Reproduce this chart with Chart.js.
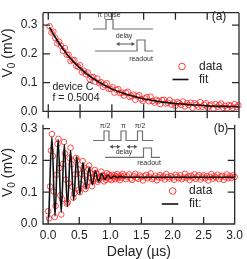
<!DOCTYPE html>
<html>
<head>
<meta charset="utf-8">
<script src="https://cdn.jsdelivr.net/npm/chart.js@4/dist/chart.umd.min.js"></script>
<style>
  html, body { margin: 0; padding: 0; background: #fff; }
  #wrap { position: relative; width: 247px; height: 259px; overflow: hidden; }
  canvas { position: absolute; left: 0; }
  #chartA { top: 0; }
  #chartB { top: 112px; }
</style>
</head>
<body>
<div id="wrap">
  <canvas id="chartA" width="247" height="124"></canvas>
  <canvas id="chartB" width="247" height="147"></canvas>
</div>
<script>
// axis ticks
const yTicks = [0, 0.1, 0.2, 0.3];
const xTicks = [0, 0.5, 1.0, 1.5, 2.0, 2.5, 3.0];

// panel (a): pi pulse + delay + readout
const delayA = [0.02,0.05,0.08,0.11,0.14,0.17,0.20,0.23,0.26,0.29,
  0.32,0.35,0.38,0.41,0.44,0.47,0.50,0.53,0.56,0.59,
  0.62,0.65,0.68,0.71,0.74,0.77,0.80,0.83,0.86,0.89,
  0.92,0.95,0.98,1.01,1.04,1.07,1.10,1.13,1.16,1.19,
  1.22,1.25,1.28,1.31,1.34,1.37,1.40,1.43,1.46,1.49,
  1.52,1.55,1.58,1.61,1.64,1.67,1.70,1.73,1.76,1.79,
  1.82,1.85,1.88,1.91,1.94,1.97,2.00,2.03,2.06,2.09,
  2.12,2.15,2.18,2.21,2.24,2.27,2.30,2.33,2.36,2.39,
  2.42,2.45,2.48,2.51,2.54,2.57,2.60,2.63,2.66,2.69,
  2.72,2.75,2.78,2.81,2.84,2.87,2.90,2.93,2.96,2.99];
const voltA = [0.296,0.274,0.277,0.255,0.236,0.242,0.228,0.210,0.220,0.197,
  0.197,0.175,0.179,0.178,0.158,0.155,0.160,0.136,0.141,0.129,
  0.135,0.112,0.118,0.119,0.103,0.114,0.098,0.101,0.085,0.092,
  0.098,0.078,0.078,0.084,0.065,0.075,0.077,0.063,0.065,0.055,
  0.065,0.068,0.050,0.053,0.058,0.040,0.052,0.056,0.043,0.036,
  0.045,0.049,0.035,0.051,0.036,0.030,0.040,0.036,0.025,0.039,
  0.040,0.027,0.030,0.039,0.023,0.031,0.019,0.032,0.028,0.022,
  0.034,0.017,0.028,0.022,0.030,0.012,0.028,0.023,0.016,0.032,
  0.016,0.023,0.028,0.013,0.020,0.024,0.009,0.025,0.016,0.022,
  0.027,0.012,0.019,0.010,0.022,0.019,0.012,0.025,0.015,0.021];
const fitDelayA = [0.02,0.1,0.2,0.3,0.4,0.5,0.6,0.7,0.8,0.9,1.0,1.2,1.4,1.6,1.8,2.0,2.25,2.5,2.75,3.0];
const fitVoltA = [0.292,0.261,0.227,0.197,0.172,0.150,0.131,0.115,0.101,0.089,0.078,0.061,0.049,0.039,0.032,0.027,0.023,0.019,0.017,0.016];

// panel (b): pi/2 - delay - pi - delay - pi/2 + readout
const delayB = [0,0.015,0.03,0.045,0.06,0.075,0.09,0.105,0.12,0.135,
  0.15,0.165,0.18,0.195,0.21,0.225,0.24,0.255,0.27,0.285,
  0.3,0.315,0.33,0.345,0.36,0.375,0.39,0.405,0.42,0.435,
  0.45,0.465,0.48,0.495,0.51,0.525,0.54,0.555,0.57,0.585,
  0.6,0.615,0.63,0.645,0.66,0.675,0.69,0.705,0.72,0.735,
  0.75,0.765,0.78,0.795,0.81,0.825,0.84,0.855,0.87,0.885,
  0.9,0.915,0.93,0.945,0.96,0.975,0.99,1.005,1.02,1.035,
  1.05,1.065,1.08,1.095,1.11,1.125,1.14,1.155,1.17,1.185,1.2,
  1.225,1.25,1.275,1.3,1.325,1.35,1.375,1.4,1.425,1.45,
  1.475,1.5,1.525,1.55,1.575,1.6,1.625,1.65,1.675,1.7,
  1.725,1.75,1.775,1.8,1.825,1.85,1.875,1.9,1.925,1.95,
  1.975,2.0,2.025,2.05,2.075,2.1,2.125,2.15,2.175,2.2,
  2.225,2.25,2.275,2.3,2.325,2.35,2.375,2.4,2.425,2.45,
  2.475,2.5,2.525,2.55,2.575,2.6,2.625,2.65,2.675,2.7,
  2.725,2.75,2.775,2.8,2.825,2.85,2.875,2.9,2.925,2.95,
  2.975,3.0];
const voltB = [0.040,0.018,0.118,0.231,0.283,0.214,0.102,0.022,0.057,0.155,
  0.252,0.268,0.176,0.090,0.030,0.078,0.189,0.258,0.222,0.140,
  0.064,0.068,0.128,0.207,0.240,0.188,0.117,0.083,0.097,0.156,
  0.208,0.200,0.172,0.108,0.100,0.125,0.157,0.198,0.178,0.152,
  0.110,0.119,0.131,0.173,0.184,0.160,0.146,0.119,0.135,0.142,
  0.170,0.161,0.158,0.133,0.139,0.146,0.147,0.165,0.152,0.153,
  0.134,0.146,0.139,0.160,0.149,0.156,0.141,0.150,0.138,0.155,
  0.146,0.153,0.141,0.150,0.157,0.144,0.149,0.138,0.152,0.146,0.158,
  0.152,0.141,0.149,0.156,0.143,0.139,0.151,0.158,0.146,0.142,
  0.153,0.148,0.137,0.150,0.155,0.144,0.149,0.159,0.141,0.146,
  0.152,0.138,0.147,0.154,0.145,0.150,0.140,0.157,0.148,0.143,
  0.151,0.146,0.139,0.155,0.149,0.144,0.153,0.141,0.147,0.158,
  0.145,0.150,0.138,0.152,0.146,0.156,0.142,0.149,0.154,0.140,
  0.147,0.153,0.144,0.151,0.137,0.148,0.157,0.143,0.150,0.146,
  0.155,0.141,0.149,0.152,0.139,0.147,0.156,0.144,0.150,0.145,
  0.153,0.148];
const fitDelayB = [0.01,0.06,0.11,0.16,0.21,0.26,0.31,0.36,0.41,0.46,0.51,0.56,0.61,0.66,0.71,0.76,0.81,0.86,0.91,0.96,1.01,1.06,1.11,1.16,1.21,1.5,2.0,2.5,3.0];
const fitVoltB = [0.020,0.274,0.025,0.266,0.037,0.250,0.055,0.231,0.075,0.212,0.094,0.193,0.111,0.178,0.124,0.167,0.133,0.159,0.140,0.154,0.144,0.151,0.146,0.150,0.147,0.147,0.147,0.147,0.147];

const FONT = "'Liberation Sans', Arial, sans-serif";
const RED = 'rgba(255, 35, 35, 0.9)';
const INK = '#222';
Chart.defaults.font.family = FONT;
Chart.defaults.color = INK;

const pts = (xs, ys) => xs.map((t, i) => ({ x: t, y: ys[i] }));

function frame(chart, panel) {
  const { ctx, chartArea: a, scales: { x, y } } = chart;
  const T = 7;
  ctx.save();
  ctx.strokeStyle = '#2a2a2a';
  ctx.lineWidth = 1.3;
  ctx.beginPath();
  ctx.moveTo(a.left, a.top); ctx.lineTo(a.left, a.bottom);
  ctx.lineTo(a.right, a.bottom); ctx.lineTo(a.right, a.top);
  if (panel === 'a') { ctx.moveTo(a.left, a.top); ctx.lineTo(a.right, a.top); }
  yTicks.forEach(v => {
    const py = y.getPixelForValue(v);
    ctx.moveTo(a.left, py); ctx.lineTo(a.left + T, py);
    ctx.moveTo(a.right, py); ctx.lineTo(a.right - T, py);
  });
  xTicks.forEach(v => {
    const px = x.getPixelForValue(v);
    if (panel === 'a') {
      ctx.moveTo(px, a.top); ctx.lineTo(px, a.top + T);
      ctx.moveTo(px, a.bottom - T); ctx.lineTo(px, a.bottom + T);
    } else {
      ctx.moveTo(px, a.bottom); ctx.lineTo(px, a.bottom - T);
    }
  });
  ctx.stroke();
  ctx.restore();
}

function vTitle(ctx, cx, cy) {
  ctx.save();
  ctx.translate(cx, cy);
  ctx.rotate(-Math.PI / 2);
  ctx.fillStyle = INK;
  ctx.textBaseline = 'alphabetic';
  ctx.font = '14px ' + FONT;
  const w1 = ctx.measureText('V').width;
  const w3 = ctx.measureText(' (mV)').width;
  ctx.font = '10px ' + FONT;
  const w2 = ctx.measureText('0').width;
  let x0 = -(w1 + w2 + w3) / 2;
  ctx.font = '14px ' + FONT;
  ctx.fillText('V', x0, 5);
  ctx.font = '10px ' + FONT;
  ctx.fillText('0', x0 + w1, 8);
  ctx.font = '14px ' + FONT;
  ctx.fillText(' (mV)', x0 + w1 + w2, 5);
  ctx.restore();
}

function path(ctx, p) {
  ctx.beginPath();
  ctx.moveTo(p[0][0], p[0][1]);
  for (let i = 1; i < p.length; i++) ctx.lineTo(p[i][0], p[i][1]);
  ctx.stroke();
}

function arrow2(ctx, x1, x2, y) {
  ctx.beginPath(); ctx.moveTo(x1 + 2, y); ctx.lineTo(x2 - 2, y); ctx.stroke();
  ctx.beginPath();
  ctx.moveTo(x1, y); ctx.lineTo(x1 + 3.5, y - 2); ctx.lineTo(x1 + 3.5, y + 2); ctx.closePath();
  ctx.moveTo(x2, y); ctx.lineTo(x2 - 3.5, y - 2); ctx.lineTo(x2 - 3.5, y + 2); ctx.closePath();
  ctx.fill();
}

function small(ctx, s, x, y) {
  ctx.font = '7px ' + FONT;
  ctx.textAlign = 'center';
  ctx.textBaseline = 'middle';
  ctx.fillText(s, x, y);
}

function legend(ctx, cx, cy, lx1, lx2, ly, tx, fitLabel) {
  ctx.save();
  ctx.strokeStyle = RED; ctx.lineWidth = 1;
  ctx.beginPath(); ctx.arc(cx, cy, 3.3, 0, Math.PI * 2); ctx.stroke();
  ctx.strokeStyle = '#111'; ctx.lineWidth = 1.6;
  ctx.beginPath(); ctx.moveTo(lx1, ly); ctx.lineTo(lx2, ly); ctx.stroke();
  ctx.fillStyle = INK; ctx.font = '12px ' + FONT;
  ctx.textAlign = 'left'; ctx.textBaseline = 'middle';
  ctx.fillText('data', tx, cy);
  ctx.fillText(fitLabel, tx, ly);
  ctx.restore();
}

const decoA = {
  id: 'decoA',
  afterDraw(chart) {
    const ctx = chart.ctx;
    frame(chart, 'a');
    vTitle(ctx, 7, 53);
    ctx.save();
    ctx.fillStyle = INK;
    ctx.font = '12px ' + FONT;
    ctx.textAlign = 'center'; ctx.textBaseline = 'middle';
    ctx.fillText('(a)', 219, 16.5);
    ctx.font = '10.5px ' + FONT;
    ctx.textAlign = 'left'; ctx.textBaseline = 'alphabetic';
    ctx.fillText('device C', 52.5, 90);
    ctx.fillText('f = 0.5004', 52.5, 100.5);
    // pulse sequence sketch
    ctx.strokeStyle = '#707070'; ctx.fillStyle = '#555'; ctx.lineWidth = 1.2;
    path(ctx, [[93, 29], [106, 29], [106, 19.5], [113, 19.5], [113, 29], [153, 29]]);
    path(ctx, [[95, 51], [137, 51], [137, 40], [145, 40], [145, 51], [153, 51]]);
    arrow2(ctx, 116, 135, 44);
    ctx.fillStyle = '#333';
    small(ctx, '\u03c0 pulse', 109, 15.5);
    small(ctx, 'delay', 124, 36);
    small(ctx, 'readout', 141, 59.5);
    ctx.restore();
    legend(ctx, 182, 66.5, 172.5, 188.5, 79.5, 199, 'fit');
  }
};

const decoB = {
  id: 'decoB',
  afterDraw(chart) {
    const ctx = chart.ctx;
    frame(chart, 'b');
    vTitle(ctx, 7, 60.5);
    const a = chart.chartArea;
    ctx.save();
    ctx.fillStyle = INK;
    ctx.font = '14px ' + FONT;
    ctx.textAlign = 'center'; ctx.textBaseline = 'alphabetic';
    ctx.fillText('Delay (\u00b5s)', (a.left + a.right) / 2, 143.5);
    ctx.font = '12px ' + FONT;
    ctx.textBaseline = 'middle';
    ctx.fillText('(b)', 221, 16.5);
    ctx.strokeStyle = '#707070'; ctx.fillStyle = '#555'; ctx.lineWidth = 1.2;
    path(ctx, [[93, 28.5], [104, 28.5], [104, 19], [109, 19], [109, 28.5], [121, 28.5], [121, 19], [126, 19],
      [126, 28.5], [137.5, 28.5], [137.5, 19], [142.5, 19], [142.5, 28.5], [153, 28.5]]);
    path(ctx, [[105, 45.3], [143.5, 45.3], [143.5, 36], [151.5, 36], [151.5, 45.3], [160, 45.3]]);
    arrow2(ctx, 109.5, 120.5, 34.7);
    arrow2(ctx, 126.5, 137.5, 34.7);
    ctx.fillStyle = '#333';
    small(ctx, '\u03c0/2', 105, 14.5);
    small(ctx, '\u03c0', 123.5, 14.5);
    small(ctx, '\u03c0/2', 140, 14.5);
    small(ctx, 'delay', 124, 40);
    small(ctx, 'readout', 149, 51);
    ctx.restore();
    legend(ctx, 172.7, 79, 161.7, 178.3, 92, 189, 'fit:');
  }
};

function yScale(max) {
  return {
    min: 0, max: max,
    grid: { display: false, drawTicks: false },
    border: { display: false },
    afterBuildTicks: s => { s.ticks = yTicks.map(v => ({ value: v })); },
    afterFit: s => { s.width = 43; },
    ticks: { padding: 5.5, font: { size: 12 }, color: INK, callback: v => v.toFixed(1) }
  };
}

function datasets(fx, fy, dx, dy, smooth) {
  return [{
    data: pts(fx, fy),
    showLine: true,
    borderColor: '#111',
    borderWidth: 1.6,
    pointRadius: 0,
    cubicInterpolationMode: smooth ? 'monotone' : 'default',
    tension: smooth ? 0 : 0.3,
    clip: false
  }, {
    data: pts(dx, dy),
    showLine: false,
    pointRadius: 2.8,
    pointBorderWidth: 0.9,
    pointBorderColor: RED,
    pointBackgroundColor: 'rgba(255,255,255,0)',
    clip: false
  }];
}

new Chart(document.getElementById('chartA'), {
  type: 'scatter',
  data: { datasets: datasets(fitDelayA, fitVoltA, delayA, voltA, false) },
  options: {
    responsive: false, animation: false, devicePixelRatio: 1,
    layout: { padding: { top: 1, right: 8, bottom: 12, left: 0 } },
    plugins: { legend: { display: false }, tooltip: { enabled: false } },
    scales: {
      x: { type: 'linear', min: -0.083, max: 3.0, display: false },
      y: yScale(0.343)
    }
  },
  plugins: [decoA]
});

new Chart(document.getElementById('chartB'), {
  type: 'scatter',
  data: { datasets: datasets(fitDelayB, fitVoltB, delayB, voltB, true) },
  options: {
    responsive: false, animation: false, devicePixelRatio: 1,
    layout: { padding: { top: 12, right: 8, bottom: 0, left: 0 } },
    plugins: { legend: { display: false }, tooltip: { enabled: false } },
    scales: {
      x: {
        type: 'linear', min: -0.083, max: 3.0,
        grid: { display: false, drawTicks: false },
        border: { display: false },
        afterBuildTicks: s => { s.ticks = xTicks.map(v => ({ value: v })); },
        afterFit: s => { s.height = 35; },
        ticks: { padding: 4, font: { size: 12 }, color: INK, maxRotation: 0, callback: v => v.toFixed(1) }
      },
      y: yScale(0.3125)
    }
  },
  plugins: [decoB]
});
</script>
</body>
</html>
